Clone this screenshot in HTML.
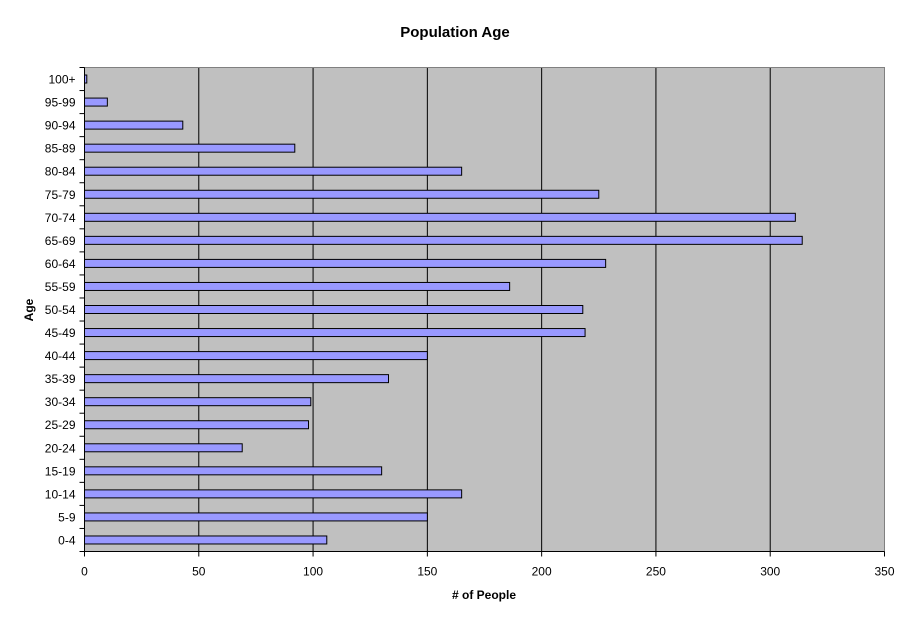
<!DOCTYPE html>
<html><head><meta charset="utf-8"><style>
body{margin:0;background:#fff;}
svg{display:block;font-family:"Liberation Sans",Arial,sans-serif;}
</style></head><body>
<svg id="chart" width="911" height="623" viewBox="0 0 911 623">
<text x="455" y="37" text-anchor="middle" font-size="15" font-weight="bold">Population Age</text>
<rect x="84.5" y="67.5" width="800" height="484" fill="#c0c0c0"/>
<g id="grid"></g><g id="bars"></g><g id="axes"></g>
<text x="484" y="599" text-anchor="middle" font-size="12" font-weight="bold"># of People</text>
<text transform="translate(33,310) rotate(-90)" text-anchor="middle" font-size="12" font-weight="bold">Age</text>
</svg>
<script>
const categories=["0-4","5-9","10-14","15-19","20-24","25-29","30-34","35-39","40-44","45-49","50-54","55-59","60-64","65-69","70-74","75-79","80-84","85-89","90-94","95-99","100+"];
const values=[106,150,165,130,69,98,99,133,150,219,218,186,228,314,311,225,165,92,43,10,1];
const xTicks=[0,50,100,150,200,250,300,350];
const NS="http://www.w3.org/2000/svg";
const X0=84.5,X1=884.5,Y0=67.5,Y1=551.5,XMAX=350;
const xs=v=>X0+(v/XMAX)*(X1-X0);
const band=(Y1-Y0)/categories.length;
const yc=i=>Y1-(i+0.5)*band;
function mk(t,a,p){const e=document.createElementNS(NS,t);for(const k in a)e.setAttribute(k,a[k]);p.appendChild(e);return e;}
const grid=document.getElementById('grid'),bars=document.getElementById('bars'),axes=document.getElementById('axes');
xTicks.forEach(t=>{
 if(t>0){const g=mk('line',{x1:xs(t),x2:xs(t),y1:Y0,y2:Y1,stroke:'#000'},grid);
 
 }
 const tk=mk('line',{x1:xs(t),x2:xs(t),y1:Y1,y2:Y1+5,stroke:'#000'},axes);
 
 
 const lb=mk('text',{x:xs(t),y:Y1+24,'text-anchor':'middle','font-size':12},axes);
 lb.textContent=t;
 
 
});
mk('rect',{x:X0,y:Y0,width:X1-X0,height:Y1-Y0,fill:'none',stroke:'#808080'},grid);
categories.forEach((c,i)=>{
 const b=mk('rect',{x:X0,y:yc(i)-4,width:xs(values[i])-X0,height:8,fill:'#9999ff',stroke:'#000'},bars);
 
 
 const lb=mk('text',{x:X0-9,y:yc(i)+4.5,'text-anchor':'end','font-size':12},axes);
 lb.textContent=c;
 
 
});
for(let i=0;i<=categories.length;i++){const y=Y1-i*band;
 const tk=mk('line',{x1:X0-5,x2:X0,y1:y,y2:y,stroke:'#000'},axes);
 
 }
const xa=mk('line',{x1:X0,x2:X1,y1:Y1,y2:Y1,stroke:'#000'},axes);


const ya=mk('line',{x1:X0,x2:X0,y1:Y0,y2:Y1,stroke:'#000'},axes);


</script>
</body></html>
